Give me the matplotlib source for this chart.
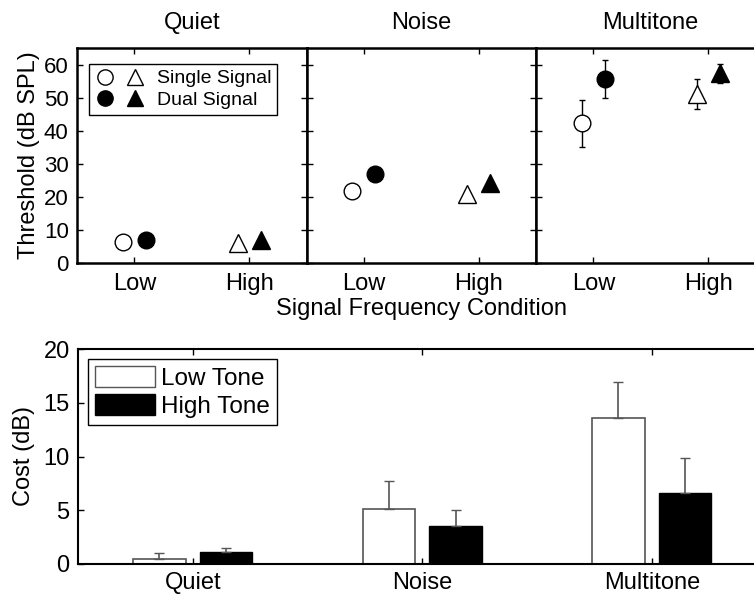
import matplotlib
matplotlib.use('Agg')
import matplotlib.pyplot as plt
from matplotlib.lines import Line2D
from matplotlib.patches import Patch
from matplotlib.legend_handler import HandlerTuple

plt.rcParams['font.family'] = ['Liberation Sans', 'DejaVu Sans']

# ── DATA ─────────────────────────────────────────────────────────────────────
conditions = ['Quiet', 'Noise', 'Multitone']
freq_labels = ['Low', 'High']

# thresholds (dB SPL): [Low, High] per condition
single_thr = [[6.5, 6.0], [21.8, 20.8], [42.2, 51.0]]
dual_thr = [[6.9, 7.0], [27.0, 24.3], [55.7, 57.3]]
single_err = [[0, 0], [0, 0], [7.0, 4.5]]
dual_err = [[0, 0], [0, 0], [5.7, 3.0]]

# cost (dB)
cost_low = [0.45, 5.1, 13.6]
cost_high = [1.1, 3.5, 6.6]
cost_low_err = [0.55, 2.6, 3.3]
cost_high_err = [0.4, 1.5, 3.3]

# ── LAYOUT (pixel helpers) ───────────────────────────────────────────────────
W, H = 754, 594
fig = plt.figure(figsize=(W / 100, H / 100), dpi=100)


def px_axes(left, top, width, height):
    return fig.add_axes([left / W, (H - top - height) / H, width / W, height / H])


def style(ax, lw=1.5):
    ax.tick_params(direction='in', top=True, right=True, length=4, width=1,
                   labelsize=16, pad=6)
    for s in ax.spines.values():
        s.set_linewidth(lw)


def point(ax, x, y, err, marker, face, ms):
    ax.errorbar([x], [y], yerr=[err] if err else None, fmt=marker, ms=ms,
                mfc=face, mec='black', mew=1, ecolor='black', elinewidth=1, capsize=2.5)


# ── TOP: thresholds ──────────────────────────────────────────────────────────
pw = 229.5
off = 0.1
for i, cond in enumerate(conditions):
    ax = px_axes(77 + i * pw, 48, pw, 215)
    style(ax, 1.8)
    x = [1, 2]
    point(ax, x[0] - off, single_thr[i][0], single_err[i][0], 'o', 'white', 12)
    point(ax, x[0] + off, dual_thr[i][0], dual_err[i][0], 'o', 'black', 12)
    point(ax, x[1] - off, single_thr[i][1], single_err[i][1], '^', 'white', 13)
    point(ax, x[1] + off, dual_thr[i][1], dual_err[i][1], '^', 'black', 13)
    ax.set_xlim(0.5, 2.5)
    ax.set_ylim(0, 65)
    ax.set_xticks(x)
    ax.set_xticklabels(freq_labels, fontsize=17)
    ax.tick_params(axis='x', pad=7)
    ax.set_yticks(range(0, 61, 10))
    ax.set_title(cond, fontsize=17, pad=14)
    if i == 0:
        ax.set_ylabel('Threshold (dB SPL)', fontsize=17, labelpad=3)
        h1 = (Line2D([], [], marker='o', ls='', ms=11, mfc='white', mec='black'),
              Line2D([], [], marker='^', ls='', ms=12, mfc='white', mec='black'))
        h2 = (Line2D([], [], marker='o', ls='', ms=11, mfc='black', mec='black'),
              Line2D([], [], marker='^', ls='', ms=12, mfc='black', mec='black'))
        leg = ax.legend([h1, h2], ['Single Signal', 'Dual Signal'],
                        handler_map={tuple: HandlerTuple(ndivide=None, pad=0.5)},
                        loc='upper left', bbox_to_anchor=(0.052, 0.926), borderaxespad=0,
                        fontsize=14, fancybox=False, edgecolor='black', framealpha=1,
                        handlelength=2.6, handletextpad=0.6, borderpad=0.3,
                        labelspacing=0.2)
        leg.get_frame().set_linewidth(1)
    else:
        ax.set_yticklabels([])

fig.text((77 + 1.5 * pw) / W, 1 - 309 / H, 'Signal Frequency Condition',
         ha='center', va='center', fontsize=17)

# ── BOTTOM: cost bars ────────────────────────────────────────────────────────
ax = px_axes(78, 349, 3 * pw, 215)
style(ax, 1.5)
xb = [1, 2, 3]
bw = 0.23
d = 0.145
ax.bar([v - d for v in xb], cost_low, width=bw, color='white', edgecolor='#555555', linewidth=1.2,
       yerr=[[0] * 3, cost_low_err], ecolor='#555555', capsize=3.5, error_kw={'elinewidth': 1.2})
ax.bar([v + d for v in xb], cost_high, width=bw, color='black', edgecolor='black', linewidth=1,
       yerr=[[0] * 3, cost_high_err], ecolor='#555555', capsize=3.5, error_kw={'elinewidth': 1.2})
ax.set_xlim(0.5, 3.5)
ax.set_ylim(0, 20)
ax.set_xticks(xb)
ax.set_xticklabels(conditions, fontsize=17)
ax.set_yticks([0, 5, 10, 15, 20])
ax.tick_params(axis='y', labelsize=17)
ax.set_ylabel('Cost (dB)', fontsize=17, labelpad=6)
leg = ax.legend(handles=[Patch(facecolor='white', edgecolor='#555555', label='Low Tone'),
                         Patch(facecolor='black', edgecolor='black', label='High Tone')],
                loc='upper left', bbox_to_anchor=(0.0145, 0.953), fontsize=17.5,
                fancybox=False, edgecolor='black', framealpha=1,
                handlelength=2.45, handleheight=0.95, handletextpad=0.25, borderpad=0.3,
                labelspacing=0.15, borderaxespad=0)
leg.get_frame().set_linewidth(1)

fig.savefig('out.png', dpi=100)
